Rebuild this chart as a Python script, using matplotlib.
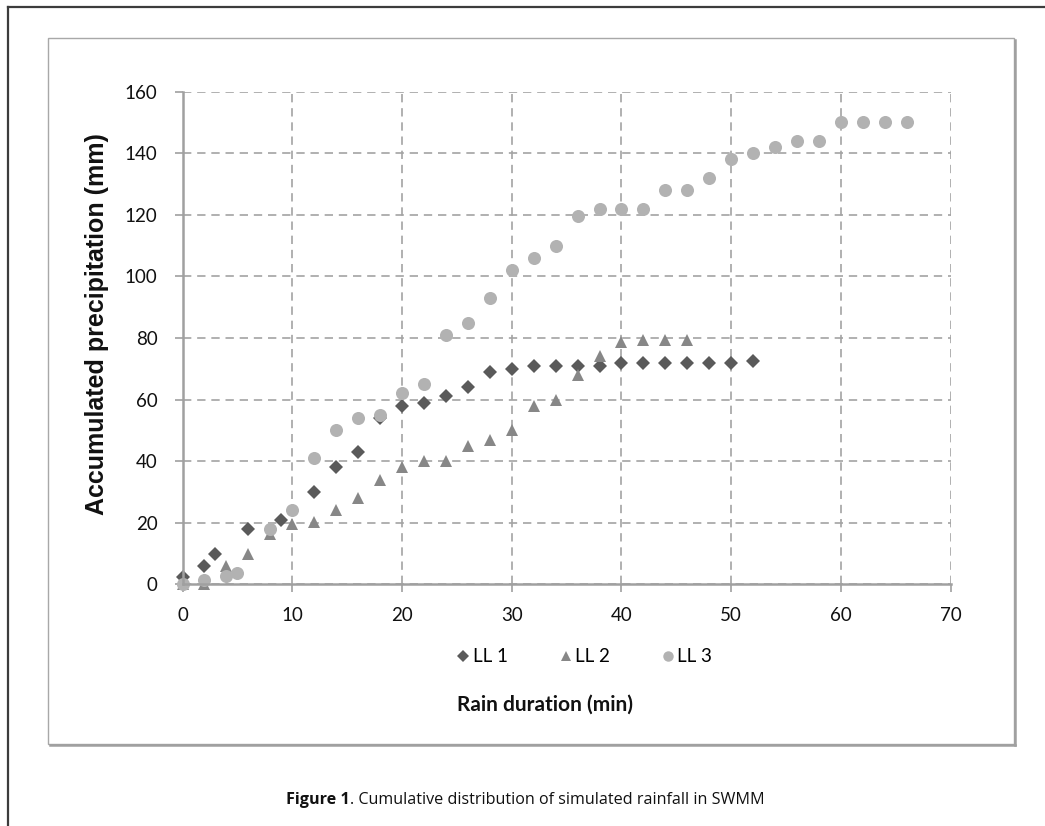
import matplotlib
matplotlib.use("Agg")
import matplotlib.pyplot as pyplot
from matplotlib.lines import Line2D
from matplotlib.patches import Rectangle

# Accumulated precipitation (mm) against rain duration (min), three events.

ll1_minutes = [0, 2, 3, 6, 9, 12, 14, 16, 18, 20, 22, 24, 26, 28, 30, 32, 34,
               36, 38, 40, 42, 44, 46, 48, 50, 52]
ll1_precip = [2.5, 6, 10, 18, 21, 30, 38, 43, 54, 58, 59, 61, 64, 69, 70, 71,
              71, 71, 71, 72, 72, 72, 72, 72, 72, 72.5]

ll2_minutes = [0, 2, 4, 6, 8, 10, 12, 14, 16, 18, 20, 22, 24, 26, 28, 30, 32,
               34, 36, 38, 40, 42, 44, 46]
ll2_precip = [0, 0, 6, 10, 16.5, 19.5, 20.3, 24, 28, 34, 38, 40, 40, 45, 47,
              50, 58, 60, 68, 74, 78.7, 79.5, 79.5, 79.5]

ll3_minutes = [0, 2, 4, 5, 8, 10, 12, 14, 16, 18, 20, 22, 24, 26, 28, 30, 32,
               34, 36, 38, 40, 42, 44, 46, 48, 50, 52, 54, 56, 58, 60, 62, 64,
               66]
ll3_precip = [0, 1.5, 2.7, 3.8, 18, 24, 41, 50, 54, 55, 62, 65, 81, 85, 93,
              102, 106, 110, 119.5, 122, 122, 122, 128, 128, 132, 138, 140,
              142, 144, 144, 150, 150, 150, 150]

series_names = ["LL 1", "LL 2", "LL 3"]
x_ticks = [0, 10, 20, 30, 40, 50, 60, 70]
y_ticks = [0, 20, 40, 60, 80, 100, 120, 140, 160]

###

W, H = 1045.0, 826.0

def fx(px):
    return px / W

def fy(py):
    return 1.0 - py / H

def draw_frames(fig):

  # Page rule along the top and left edges.

    fig.add_artist(Line2D([fx(8), 1.0], [fy(7), fy(7)], color="#3c3c3c",
        linewidth=1.6, transform=fig.transFigure))
    fig.add_artist(Line2D([fx(8), fx(8)], [fy(7), 0.0], color="#3c3c3c",
        linewidth=1.6, transform=fig.transFigure))

  # Chart box with a light shadow on the right and bottom.

    fig.add_artist(Line2D([fx(50), fx(1015.2)], [fy(745.2), fy(745.2)],
        color="#a0a0a0", linewidth=1.8, transform=fig.transFigure))
    fig.add_artist(Line2D([fx(1015.2), fx(1015.2)], [fy(40), fy(745.2)],
        color="#a0a0a0", linewidth=1.8, transform=fig.transFigure))
    fig.add_artist(Rectangle((fx(48), fy(744)), fx(1014) - fx(48),
        fy(38) - fy(744), fill=False, edgecolor="#a8a8a8", linewidth=1.0,
        transform=fig.transFigure))

def plot_series(ax):

    styles = [
        (ll1_minutes, ll1_precip, "D", 7.2, "#5a5a5a"),
        (ll2_minutes, ll2_precip, "^", 8.4, "#878787"),
        (ll3_minutes, ll3_precip, "o", 9.4, "#b2b2b2"),
    ]
    handles = []
    for (xs, ys, marker, size, color), name in zip(styles, series_names):
        line, = ax.plot(xs, ys, linestyle="none", marker=marker,
            markersize=size, color=color, markeredgewidth=0, label=name,
            clip_on=False)
        handles.append(line)
    return handles

def main():

    fig = pyplot.figure(figsize=(W / 100, H / 100), dpi=100)
    draw_frames(fig)

    left, right = fx(182.5), fx(950.7)
    top, bottom = fy(91.7), fy(584.3)
    ax = fig.add_axes([left, bottom, right - left, top - bottom])

    handles = plot_series(ax)

    ax.set_xlim(0, 70)
    ax.set_ylim(0, 160)
    ax.set_xticks(x_ticks)
    ax.set_yticks(y_ticks)

    tick_font = dict(family="Lato", size=13.5)
    ax.set_xticklabels([str(t) for t in x_ticks], fontdict=tick_font)
    ax.set_yticklabels([str(t) for t in y_ticks], fontdict=tick_font)
    ax.tick_params(direction="out", length=6, width=1.2, color="#a0a0a0",
        labelcolor="#111111")
    ax.tick_params(axis="x", pad=10)
    ax.tick_params(axis="y", pad=12)

    ax.grid(True, linestyle=(0, (5, 3.5)), color="#a3a3a3", linewidth=1.2)
    ax.set_axisbelow(True)

    for side in ["top", "right"]:
        ax.spines[side].set_visible(False)
    for side in ["left", "bottom"]:
        ax.spines[side].set_color("#a0a0a0")
        ax.spines[side].set_linewidth(1.8)

    ax.set_ylabel("Accumulated precipitation (mm)", family="Liberation Sans",
        weight="bold", size=18, color="#111111")
    ax.yaxis.set_label_coords(-0.096, 0.528)

    fig.legend(handles=handles, loc="center", ncol=3, frameon=False,
        bbox_to_anchor=(fx(584), fy(657)), prop=dict(family="Lato", size=13.5),
        handlelength=0.8, handletextpad=0.1, columnspacing=2.7,
        markerscale=0.8)

    fig.text(fx(545), fy(705), "Rain duration (min)", family="Lato",
        weight="bold", size=15, color="#111111", ha="center", va="center")

  # Caption below the chart box, bold figure number then plain text.

    head = fig.text(fx(350), fy(800), "Figure 1", family="Open Sans",
        weight="bold", size=11.6, ha="right", va="center", color="#111111")
    ax.annotate(". Cumulative distribution of simulated rainfall in SWMM",
        xy=(1.0, 0.5), xycoords=head, ha="left", va="center",
        family="Open Sans", size=11.6, color="#111111",
        annotation_clip=False)

    fig.savefig("out.png", dpi=100)

###

if __name__ == "__main__":
    main()
